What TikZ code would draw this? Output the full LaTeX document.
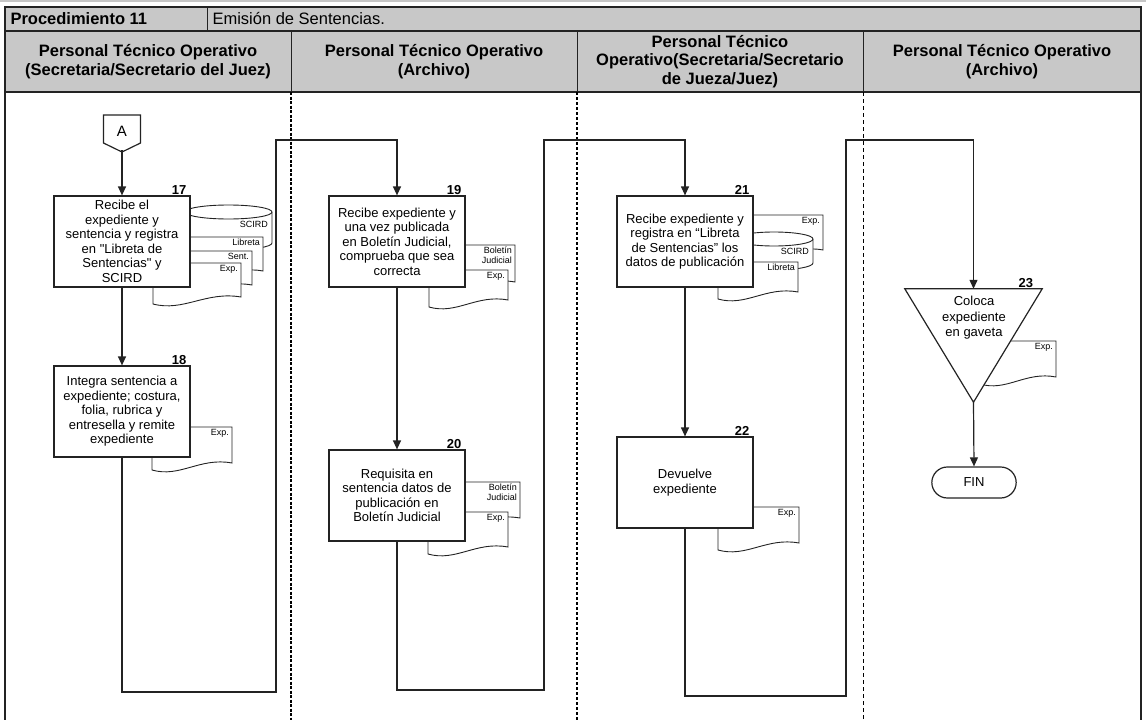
\documentclass[tikz,border=0pt]{standalone}
\usepackage{fontspec}
\setmainfont{Liberation Sans}
\newfontfamily\semmapa{Liberation Sans}[Ligatures=TeXOff]
\usetikzlibrary{arrows.meta}
\usetikzlibrary{shapes.misc}

\definecolor{cinza}{RGB}{200,200,200}
\definecolor{linha}{RGB}{35,35,35}

% aspas retas
\newcommand{\aspas}{{\semmapa\symbol{34}}}

% documento: nome, x1, topo, x2, base direita, rotulo
\newcommand{\documento}[6]{%
  \draw[doc] (#2,#3) -- (#4,#3) -- (#4,#5)
    .. controls ({#2+0.6*(#4-#2)},{#5-6}) and ({#2+0.35*(#4-#2)},{#5+15}) .. (#2,{#5+7}) -- cycle;
  \node[rotulo, anchor=north east] (#1) at ({#4-2},{#3+1}) {#6};
}
% base de dados: nome, x1, topo, x2, base, rotulo
\newcommand{\basedados}[6]{%
  \draw[doc] (#2,{#3+7}) -- (#2,{#5-7})
    arc[start angle=180, end angle=360, x radius={(#4-#2)/2*1pt}, y radius=7pt]
    -- (#4,{#3+7})
    arc[start angle=0, end angle=180, x radius={(#4-#2)/2*1pt}, y radius=7pt] -- cycle;
  \draw[doc] (#2,{#3+7})
    arc[start angle=180, end angle=360, x radius={(#4-#2)/2*1pt}, y radius=7pt];
  \node[rotulo, anchor=north east] (#1) at ({#4-3},{#3+15}) {#6};
}

\begin{document}
\begin{tikzpicture}[x=1pt, y=-1pt,
    caixa/.style={draw=linha, fill=white, line width=1.2pt, minimum width=136pt,
      minimum height=91pt, align=center, inner sep=2pt,
      font=\fontsize{13}{14.5}\selectfont},
    numero/.style={anchor=south east, inner sep=1pt, xshift=-3pt,
      font=\bfseries\fontsize{13}{13}\selectfont},
    doc/.style={draw=linha, fill=white, line width=0.9pt},
    rotulo/.style={inner sep=1pt, align=right, font=\fontsize{9}{10}\selectfont},
    fluxo/.style={draw=linha, line width=1.2pt, -{Triangle[length=9pt, width=8pt]}},
    raia/.style={align=center, font=\bfseries\fontsize{16.5}{18.5}\selectfont}
  ]
  \useasboundingbox (0,0) rectangle (1146,720);

  % cabeçalho
  \draw[gray!45, line width=2pt] (0,1) -- (1146,1);
  \fill[cinza] (5,7) rectangle (1141,92);
  \draw[linha, line width=1.2pt] (5,720) -- (5,7) -- (1141,7) -- (1141,720);
  \draw[linha, line width=1.2pt] (5,31) -- (1141,31) (5,92) -- (1141,92);
  \draw[linha, line width=1pt] (207,7) -- (207,31);
  \foreach \x in {291,577,863}
    \draw[linha, line width=1pt] (\x,31) -- (\x,92);

  \node[anchor=west, font=\bfseries\fontsize{16.5}{18}\selectfont] (proc) at (7,19) {Procedimiento 11};
  \node[anchor=west, font=\fontsize{16.5}{18}\selectfont] (nome) at (209,19) {Emisión de Sentencias.};

  \node[raia] (raia1) at (148,61.5) {Personal Técnico Operativo\\(Secretaria/Secretario del Juez)};
  \node[raia] (raia2) at (434,61.5) {Personal Técnico Operativo\\(Archivo)};
  \node[raia] (raia3) at (720,61.5) {Personal Técnico\\Operativo(Secretaria/Secretario\\de Jueza/Juez)};
  \node[raia] (raia4) at (1002,61.5) {Personal Técnico Operativo\\(Archivo)};

  % divisões das raias
  \draw[black, line width=2pt, dash pattern=on 3pt off 1.5pt] (291,92) -- (291,720);
  \draw[black, line width=1.3pt, dash pattern=on 3pt off 2pt] (577,92) -- (577,720);
  \draw[black, line width=0.8pt, dash pattern=on 4pt off 3pt] (863,92) -- (863,720);

  % documentos
  \basedados{bd17}{185}{205}{272}{250}{SCIRD}
  \documento{lib17}{183}{237}{263}{271}{Libreta}
  \documento{sen17}{168}{251}{252}{285}{Sent.}
  \documento{exp17}{153}{263}{241}{297}{Exp.}
  \documento{exp18}{152}{427}{232}{463}{Exp.}
  \documento{bol19}{430}{245}{515}{282}{Boletín\\Judicial}
  \documento{exp19}{429}{270}{508}{300}{Exp.}
  \documento{bol20}{430}{482}{520}{518}{Boletín\\Judicial}
  \documento{exp20}{428}{512}{508}{547}{Exp.}
  \documento{exp21}{745}{215}{823}{250}{Exp.}
  \basedados{bd21}{735}{232}{813}{270}{SCIRD}
  \documento{lib21}{718}{262}{798}{292}{Libreta}
  \documento{exp22}{718}{507}{799}{543}{Exp.}
  \documento{exp23}{980}{341}{1056}{377}{Exp.}

  % conector A
  \draw[linha, line width=1.2pt] (103.5,115) -- (140.5,115) -- (140.5,143) -- (122,152) -- (103.5,143) -- cycle;
  \node[minimum width=37pt, minimum height=37pt, font=\fontsize{15}{15}\selectfont] (ca) at (122,131.5) {A};

  % atividades
  \node[caixa, label={[numero]north east:17}] (p17) at (122,241.5)
    {Recibe el\\expediente y\\sentencia y registra\\en \aspas Libreta de\\Sentencias\aspas{} y\\SCIRD};
  \node[caixa, label={[numero]north east:18}] (p18) at (122,411.5)
    {Integra sentencia a\\expediente; costura,\\folia, rubrica y\\entresella y remite\\expediente};
  \node[caixa, label={[numero]north east:19}] (p19) at (397,241.5)
    {Recibe expediente y\\una vez publicada\\en Boletín Judicial,\\comprueba que sea\\correcta};
  \node[caixa, label={[numero]north east:20}] (p20) at (397,495.5)
    {Requisita en\\sentencia datos de\\publicación en\\Boletín Judicial};
  \node[caixa, label={[numero]north east:21}] (p21) at (685,241.5)
    {Recibe expediente y\\registra en “Libreta\\de Sentencias” los\\datos de publicación};
  \node[caixa, label={[numero]north east:22}] (p22) at (685,482.5)
    {Devuelve\\expediente};

  % arquivo (triângulo)
  \node[minimum width=137pt, minimum height=113pt, inner sep=0pt,
    label={[numero, xshift=-5pt]north east:23}] (p23) at (973.5,345.5) {};
  \draw[linha, fill=white, line width=1.2pt] (p23.north west) -- (p23.north east) -- (p23.south) -- cycle;
  \node[align=center, font=\fontsize{13}{15.5}\selectfont] (p23txt) at (974,318) {Coloca\\expediente\\en gaveta};

  \node[draw=linha, line width=1.2pt, rounded rectangle, minimum width=91pt,
    minimum height=31pt, font=\fontsize{13}{13}\selectfont] (fim) at (974,482.5) {FIN};

  % fluxo
  \coordinate (a1) at (276,692);
  \coordinate (b1) at (276,140);
  \coordinate (a2) at (544,690);
  \coordinate (b2) at (544,140);
  \coordinate (a3) at (846,696);
  \coordinate (b3) at (846,140);

  \draw[fluxo] (ca.south) -- (p17.north);
  \draw[fluxo] (p17.south) -- (p18.north);
  \draw[fluxo] (p18.south) |- (a1) -- (b1) -| (p19.north);
  \draw[fluxo] (p19.south) -- (p20.north);
  \draw[fluxo] (p20.south) |- (a2) -- (b2) -| (p21.north);
  \draw[fluxo] (p21.south) -- (p22.north);
  \draw[fluxo] (p22.south) |- (a3) -- (b3) -| (p23.north);
  \draw[fluxo] (p23.south) -- (fim.north);
\end{tikzpicture}
\end{document}
